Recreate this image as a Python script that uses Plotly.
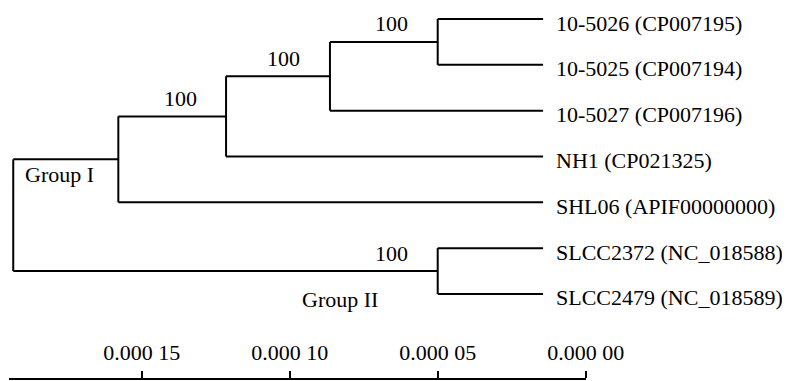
import plotly.graph_objects as go

# ---- data ----
leaf_names = ["10-5026 (CP007195)", "10-5025 (CP007194)", "10-5027 (CP007196)",
              "NH1 (CP021325)", "SHL06 (APIF00000000)",
              "SLCC2372 (NC_018588)", "SLCC2479 (NC_018589)"]
leaf_height = 1.44e-5

node_names = ["root", "A", "B", "C", "D", "E"]
node_heights = [1.934e-4, 1.579e-4, 1.215e-4, 8.64e-5, 5.0e-5, 5.0e-5]
node_children = {
    "root": ["A", "E"],
    "A": ["B", "SHL06 (APIF00000000)"],
    "B": ["C", "NH1 (CP021325)"],
    "C": ["D", "10-5027 (CP007196)"],
    "D": ["10-5026 (CP007195)", "10-5025 (CP007194)"],
    "E": ["SLCC2372 (NC_018588)", "SLCC2479 (NC_018589)"],
}
bootstrap_nodes = ["D", "C", "B", "E"]
bootstrap_values = [100, 100, 100, 100]

group_labels = ["Group I", "Group II"]

scale_ticks = [0.00015, 0.00010, 0.00005, 0.0]
scale_ticktext = ["0.000 15", "0.000 10", "0.000 05", "0.000 00"]

# ---- build tree geometry ----
height = {n: h for n, h in zip(node_names, node_heights)}
ypos = {}
for i, name in enumerate(leaf_names):
    height[name] = leaf_height
    ypos[name] = i


def y_of(n):
    if n not in ypos:
        ch = node_children[n]
        ypos[n] = sum(y_of(c) for c in ch) / len(ch)
    return ypos[n]


y_of("root")

xs, ys = [], []
for n in node_names:
    ch = node_children[n]
    cy = [ypos[c] for c in ch]
    xs += [height[n], height[n], None]
    ys += [min(cy), max(cy), None]
    for c in ch:
        xs += [height[n], height[c], None]
        ys += [ypos[c], ypos[c], None]

FONT = dict(family="Liberation Serif, Times New Roman, serif", size=22, color="black")

fig = go.Figure()
fig.add_trace(go.Scatter(x=xs, y=ys, mode="lines",
                         line=dict(color="black", width=2),
                         hoverinfo="skip", showlegend=False))
# invisible trace to carry the scale axis
fig.add_trace(go.Scatter(x=scale_ticks, y=[None] * len(scale_ticks), xaxis="x2", yaxis="y",
                         mode="lines", hoverinfo="skip", showlegend=False))

ann = []
for name in leaf_names:
    ann.append(dict(x=height[name], y=ypos[name], text=name, xref="x", yref="y",
                    xanchor="left", yanchor="middle", xshift=11, yshift=-4,
                    showarrow=False, font=FONT))
for n, v in zip(bootstrap_nodes, bootstrap_values):
    ann.append(dict(x=height[n], y=ypos[n], text=str(v), xref="x", yref="y",
                    xanchor="center", yanchor="middle", xshift=-46, yshift=18,
                    showarrow=False, font=FONT))

ann.append(dict(x=height["root"], y=ypos["A"], text=group_labels[0], xref="x", yref="y",
                xanchor="left", yanchor="middle", xshift=10, yshift=-15,
                showarrow=False, font=FONT))
ann.append(dict(x=height["E"], y=ypos["E"], text=group_labels[1], xref="x", yref="y",
                xanchor="right", yanchor="middle", xshift=-58, yshift=-28,
                showarrow=False, font=FONT))

# the page body adds an 8 px offset, so the figure is 8 px smaller on each axis
fig.update_layout(
    template="none",
    width=782, height=373,
    margin=dict(l=0, r=0, t=0, b=0, pad=0),
    paper_bgcolor="white", plot_bgcolor="rgba(0,0,0,0)",
    annotations=ann,
    xaxis=dict(range=[1.95169e-4, -6.902e-5], visible=False, domain=[0, 1], automargin=False),
    yaxis=dict(range=[7.899, -0.24], visible=False, domain=[0, 1], automargin=False),
    xaxis2=dict(domain=[1 / 782, 577.7 / 782], range=[1.9483e-4, 0.0],
                anchor="free", position=0.0046, side="top", automargin=False,
                showline=True, linecolor="black", linewidth=2,
                ticks="outside", ticklen=7, tickwidth=2, tickcolor="black",
                tickvals=scale_ticks, ticktext=scale_ticktext, tickfont=FONT,
                ticklabelstandoff=2,
                showgrid=False, zeroline=False),
)

fig.write_html("out.html")
